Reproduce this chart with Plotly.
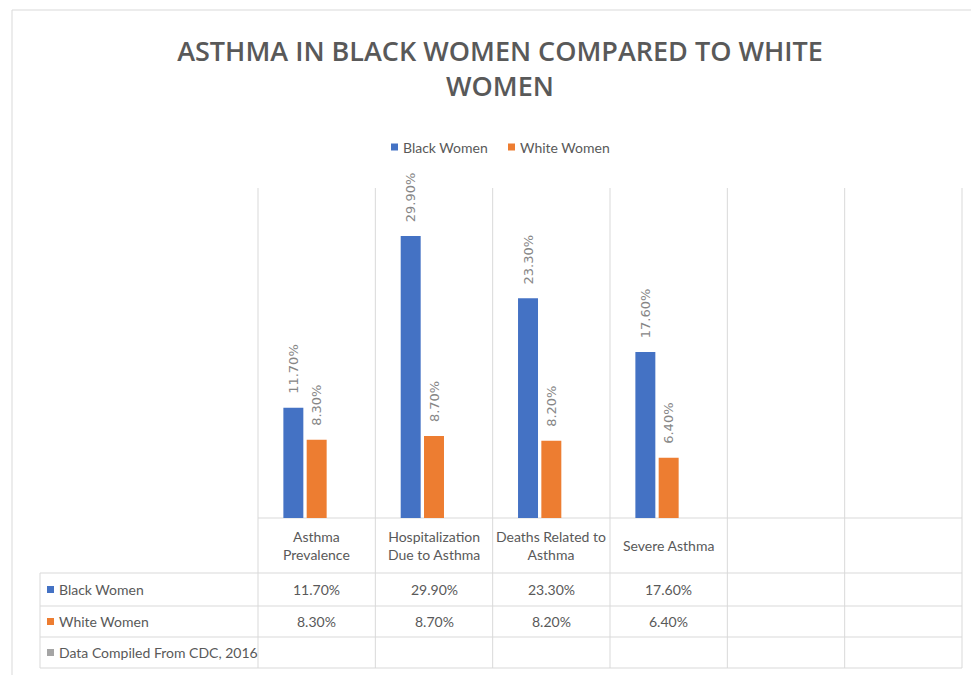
import plotly.graph_objects as go

# ---- data -------------------------------------------------------------
categories = ["Asthma Prevalence", "Hospitalization Due to Asthma",
              "Deaths Related to Asthma", "Severe Asthma"]
category_labels = ["Asthma<br>Prevalence", "Hospitalization<br>Due to Asthma",
                   "Deaths Related to<br>Asthma", "Severe Asthma"]
series_names = ["Black Women", "White Women", "Data Compiled From CDC, 2016"]
black_women = [11.7, 29.9, 23.3, 17.6]
white_women = [8.3, 8.7, 8.2, 6.4]
cdc_note = [None, None, None, None]
n_slots = 6  # table has two extra empty columns

colors = ["#4472C4", "#ED7D31", "#A5A5A5"]
GRID = "#D9D9D9"
TXT = "#595959"
BODY_FONT = "Lato"

# ---- page geometry (pixels) -------------------------------------------
W, H = 971, 675
PL, PR, PT, PB = 258, 962, 188, 518          # plot area
TL = 40                                     # table left edge
ROWS = [518, 573, 606, 637, 668]            # table row boundaries


def X(px):
    return (px - PL) / (PR - PL)


def Y(py):
    return (PB - py) / (PB - PT)


col_w = (PR - PL) / n_slots
col_edges = [PL + i * col_w for i in range(n_slots + 1)]
col_centers = [PL + (i + 0.5) * col_w for i in range(n_slots)]

fig = go.Figure()
xs = list(range(len(categories)))
for name, vals, col in zip(series_names, [black_women, white_women, cdc_note], colors):
    fig.add_trace(go.Bar(
        x=xs, y=vals, name=name, marker=dict(color=col, line=dict(width=0)),
        texttemplate="\u00a0\u00a0\u2009%{y:.2f}%", textposition="outside", textangle=-90,
        textfont=dict(family="DejaVu Sans", size=13, color="#868686"),
        constraintext="none", cliponaxis=False, showlegend=False,
    ))

shapes = []
line = dict(color=GRID, width=1)
# outer chart border
shapes.append(dict(type="rect", xref="paper", yref="paper", x0=X(12), x1=X(990),
                   y0=Y(690), y1=Y(10), line=dict(color="#D9D9D9", width=1),
                   layer="below"))
# vertical grid / table column lines
for xe in col_edges:
    shapes.append(dict(type="line", xref="paper", yref="paper", x0=X(xe), x1=X(xe),
                       y0=Y(PT), y1=Y(ROWS[-1]), line=line, layer="below"))
# horizontal table lines
shapes.append(dict(type="line", xref="paper", yref="paper", x0=X(PL), x1=X(PR),
                   y0=Y(ROWS[0]), y1=Y(ROWS[0]), line=line, layer="below"))
for ry in ROWS[1:]:
    shapes.append(dict(type="line", xref="paper", yref="paper", x0=X(TL), x1=X(PR),
                       y0=Y(ry), y1=Y(ry), line=line, layer="below"))
shapes.append(dict(type="line", xref="paper", yref="paper", x0=X(TL), x1=X(TL),
                   y0=Y(ROWS[1]), y1=Y(ROWS[-1]), line=line, layer="below"))

annotations = []


def key_box(px, py, color):
    shapes.append(dict(type="rect", xref="paper", yref="paper",
                       x0=X(px), x1=X(px + 7), y0=Y(py + 3.5), y1=Y(py - 3.5),
                       fillcolor=color, line=dict(width=0)))


def label(text, px, py, anchor="center", size=14, color=TXT):
    annotations.append(dict(text=text, xref="paper", yref="paper", x=X(px), y=Y(py),
                            xanchor=anchor, yanchor="middle", showarrow=False,
                            font=dict(family=BODY_FONT, size=size, color=color)))


# legend
legend_items = [(391, series_names[0], colors[0]), (508, series_names[1], colors[1])]
for kx, name, col in legend_items:
    key_box(kx, 147, col)
    label(name, kx + 10, 147, anchor="left")

# category header row
for cx, lab in zip(col_centers, category_labels):
    label(lab, cx, (ROWS[0] + ROWS[1]) / 2)

# data rows
row_values = [black_women, white_women, cdc_note]
for r, (name, vals, col) in enumerate(zip(series_names, row_values, colors)):
    cy = (ROWS[r + 1] + ROWS[r + 2]) / 2
    key_box(47, cy, col)
    label(name, 57, cy, anchor="left")
    for cx, v in zip(col_centers, vals):
        if v is not None:
            label(f"{v:.2f}%", cx, cy)

fig.update_layout(
    width=W, height=H,
    margin=dict(l=PL, r=W - PR, t=PT, b=H - PB),
    paper_bgcolor="white", plot_bgcolor="white",
    barmode="group", bargap=0.404, bargroupgap=0.143,
    title=dict(text="ASTHMA IN BLACK WOMEN COMPARED TO WHITE<br>WOMEN",
               x=500 / W, xanchor="center", y=1 - 61 / H, yanchor="top",
               font=dict(family="Open Sans", size=27, color=TXT, weight=600)),
    xaxis=dict(range=[-0.5, n_slots - 0.5], visible=False, showgrid=False),
    yaxis=dict(range=[0, 35], visible=False, showgrid=False),
    shapes=shapes, annotations=annotations,
)

fig.write_html("out.html")
